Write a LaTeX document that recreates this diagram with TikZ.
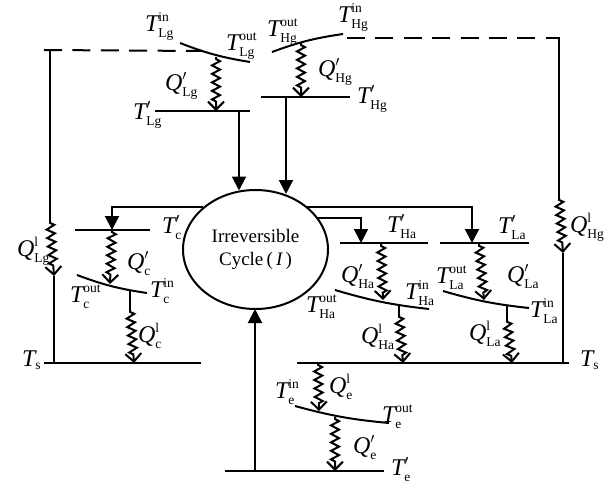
\documentclass[tikz,border=0pt]{standalone}
\usepackage{fontspec}
\setmainfont{Liberation Serif}
\usepackage{amsmath}
\usetikzlibrary{arrows.meta,shapes.geometric}
\usetikzlibrary{decorations.pathmorphing}
\DeclareMathSizes{24}{24}{13.5}{10}
\newcommand{\Tvar}[2]{$\mathit{T}^{\mathrm{#1}}_{\mathrm{#2}}$}
\newcommand{\Qvar}[2]{$\mathit{Q}^{\mathrm{#1}}_{\mathrm{#2}}$}
\tikzset{
 plate/.style={line width=2pt},
 flow/.style={-{Triangle[length=14pt,width=14pt]}},
 dashline/.style={dash pattern=on 18pt off 10.4pt},
 wiggle/.style={decorate,decoration={zigzag,amplitude=4pt,segment length=8.5pt,pre length=2pt,post length=7pt},-{Straight Barb[length=8pt,width=16pt]}},
 lab/.style={anchor=base west,inner sep=0pt,font=\fontsize{24}{24}\selectfont}
}
\begin{document}
\begin{tikzpicture}[x=1pt,y=-1pt,line width=2pt]
\useasboundingbox (0,0) rectangle (614,483);

% temperature levels
\path (44,363) coordinate[name=sL1];
\path (201,363) coordinate[name=sL2];
\path (297,363) coordinate[name=sR1];
\path (569,363) coordinate[name=sR2];
\path (155,111) coordinate[name=lg1];
\path (250,111) coordinate[name=lg2];
\path (261,97) coordinate[name=hg1];
\path (350,97) coordinate[name=hg2];
\path (75,230) coordinate[name=c1];
\path (150,230) coordinate[name=c2];
\path (340,243) coordinate[name=ha1];
\path (428,243) coordinate[name=ha2];
\path (440,243) coordinate[name=la1];
\path (529,243) coordinate[name=la2];
\path (225,471) coordinate[name=e1];
\path (384,471) coordinate[name=e2];

% working fluid curves
\path (180,43) coordinate[name=clg1];
\path (250,62) coordinate[name=clg2];
\path (272,52) coordinate[name=chg1];
\path (343,34) coordinate[name=chg2];
\path (77,275) coordinate[name=cc1];
\path (147,293) coordinate[name=cc2];
\path (335,290) coordinate[name=cha1];
\path (429,309) coordinate[name=cha2];
\path (443,291) coordinate[name=cla1];
\path (529,308) coordinate[name=cla2];
\path (295,406) coordinate[name=ce1];
\path (389,423) coordinate[name=ce2];

\path (255.5,249.5) node[name=cycle,draw,ellipse,inner sep=0pt,minimum width=145pt,minimum height=119pt,align=center,font=\fontsize{19}{23}\selectfont] {Irreversible\\Cycle\,(\,$\mathit{I}$\,)};

\path[plate] (sL1) edge (sL2);
\path[plate] (sR1) edge (sR2);
\path[plate] (lg1) edge (lg2);
\path[plate] (hg1) edge (hg2);
\path[plate] (c1) edge (c2);
\path[plate] (ha1) edge (ha2);
\path[plate] (la1) edge (la2);
\path[plate] (e1) edge (e2);

\path[plate] (clg1) edge[bend right=6] (clg2);
\path[plate] (chg1) edge[bend left=6] (chg2);
\path[plate] (cc1) edge[bend right=6] (cc2);
\path[plate] (cha1) edge[bend right=5] (cha2);
\path[plate] (cla1) edge[bend right=5] (cla2);
\path[plate] (ce1) edge[bend right=5] (ce2);

% dashed return lines
\path (44,50) coordinate[name=dL1];
\path (203,51) coordinate[name=dL2];
\path (560,38) coordinate[name=dR1];
\path (347,38) coordinate[name=dR2];
\draw[dashline] (dL1) -- (dL2);
\draw[dashline] (dR2) -- (dR1);

% heat leaks to the sink
\path (50,50) coordinate[name=qlg0];
\path (50,221) coordinate[name=qlg1];
\path (54,276) coordinate[name=qlg2];
\path (54,363) coordinate[name=qlg3];
\draw (qlg0) -- (qlg1);
\draw[wiggle] (qlg1) -- (qlg2);
\draw (qlg2) -- (qlg3);
\path (559,38) coordinate[name=qhg0];
\path (559,198) coordinate[name=qhg1];
\path (563,253) coordinate[name=qhg2];
\path (563,363) coordinate[name=qhg3];
\draw (qhg0) -- (qhg1);
\draw[wiggle] (qhg1) -- (qhg2);
\draw (qhg2) -- (qhg3);

% heat exchange
\path (216,57) coordinate[name=a1];
\path (216,111) coordinate[name=a2];
\path (301,43) coordinate[name=b1];
\path (301,97) coordinate[name=b2];
\path (112,230) coordinate[name=f1];
\path (110,284) coordinate[name=f2];
\path (381,244) coordinate[name=g1];
\path (383,300) coordinate[name=g2];
\path (479,244) coordinate[name=h1];
\path (484,300) coordinate[name=h2];
\path (318,363) coordinate[name=k1];
\path (319,411) coordinate[name=k2];
\path (335,417) coordinate[name=m1];
\path (335,471) coordinate[name=m2];
\draw[wiggle] (a1) -- (a2);
\draw[wiggle] (b1) -- (b2);
\draw[wiggle] (f1) -- (f2);
\draw[wiggle] (g1) -- (g2);
\draw[wiggle] (h1) -- (h2);
\draw[wiggle] (k1) -- (k2);
\draw[wiggle] (m1) -- (m2);

\path (130,290) coordinate[name=n1];
\path (130,310) coordinate[name=n2];
\path (134,363) coordinate[name=n3];
\path (399,305) coordinate[name=p1];
\path (399,315) coordinate[name=p2];
\path (403,363) coordinate[name=p3];
\path (507,305) coordinate[name=r1];
\path (507,320) coordinate[name=r2];
\path (512,363) coordinate[name=r3];
\draw (n1) -- (n2);
\draw[wiggle] (n2) -- (n3);
\draw (p1) -- (p2);
\draw[wiggle] (p2) -- (p3);
\draw (r1) -- (r2);
\draw[wiggle] (r2) -- (r3);

% flows to and from the cycle
\path (239,111) coordinate[name=u1];
\path (239,190.5) coordinate[name=u2];
\path (286,97) coordinate[name=v1];
\path (286,194) coordinate[name=v2];
\path (255,471) coordinate[name=w1];
\path (255,309) coordinate[name=w2];
\path (203,207) coordinate[name=x1];
\path (112,207) coordinate[name=x2];
\path (112,230) coordinate[name=x3];
\path (307,207) coordinate[name=y1];
\path (472,207) coordinate[name=y2];
\path (472,243) coordinate[name=y3];
\path (318,218) coordinate[name=z1];
\path (361,218) coordinate[name=z2];
\path (361,243) coordinate[name=z3];
\draw[flow] (u1) -- (u2);
\draw[flow] (v1) -- (v2);
\draw[flow] (w1) -- (w2);
\draw[flow] (x1) -- (x2) -- (x3);
\draw[flow] (y1) -- (y2) -- (y3);
\draw[flow] (z1) -- (z2) -- (z3);

% labels
\path (144,31) node[name=tlgin,lab] {\Tvar{in}{Lg}};
\path (225,50) node[name=tlgout,lab] {\Tvar{out}{Lg}};
\path (266,36) node[name=thgout,lab] {\Tvar{out}{Hg}};
\path (337,22) node[name=thgin,lab] {\Tvar{in}{Hg}};
\path (164,90) node[name=qlgp,lab] {$\mathit{Q}'_{\mathrm{Lg}}$};
\path (317,76) node[name=qhgp,lab] {$\mathit{Q}'_{\mathrm{Hg}}$};
\path (132,119) node[name=tlgp,lab] {$\mathit{T}'_{\mathrm{Lg}}$};
\path (356,103) node[name=thgp,lab] {$\mathit{T}'_{\mathrm{Hg}}$};
\path (161,233) node[name=tcp,lab] {$\mathit{T}'_{\mathrm{c}}$};
\path (16,256) node[name=qlgl,lab] {\Qvar{l}{Lg}};
\path (126,269) node[name=qcp,lab] {$\mathit{Q}'_{\mathrm{c}}$};
\path (69,302) node[name=tcout,lab] {\Tvar{out}{c}};
\path (149,297) node[name=tcin,lab] {\Tvar{in}{c}};
\path (137,342) node[name=qcl,lab] {\Qvar{l}{c}};
\path (21,366) node[name=tsl,lab] {$\mathit{T}_{\mathrm{s}}$};
\path (386,232) node[name=thap,lab] {$\mathit{T}'_{\mathrm{Ha}}$};
\path (497,233) node[name=tlap,lab] {$\mathit{T}'_{\mathrm{La}}$};
\path (569,232) node[name=qhgl,lab] {\Qvar{l}{Hg}};
\path (340,282) node[name=qhap,lab] {$\mathit{Q}'_{\mathrm{Ha}}$};
\path (435,283) node[name=tlaout,lab] {\Tvar{out}{La}};
\path (506,282) node[name=qlap,lab] {$\mathit{Q}'_{\mathrm{La}}$};
\path (305,312) node[name=thaout,lab] {\Tvar{out}{Ha}};
\path (404,299) node[name=thain,lab] {\Tvar{in}{Ha}};
\path (529,317) node[name=tlain,lab] {\Tvar{in}{La}};
\path (360,343) node[name=qhal,lab] {\Qvar{l}{Ha}};
\path (468,340) node[name=qlal,lab] {\Qvar{l}{La}};
\path (579,366) node[name=tsr,lab] {$\mathit{T}_{\mathrm{s}}$};
\path (328,393) node[name=qel,lab] {\Qvar{l}{e}};
\path (274,398) node[name=tein,lab] {\Tvar{in}{e}};
\path (381,422) node[name=teout,lab] {\Tvar{out}{e}};
\path (352,453) node[name=qep,lab] {$\mathit{Q}'_{\mathrm{e}}$};
\path (390,475) node[name=tep,lab] {$\mathit{T}'_{\mathrm{e}}$};

\end{tikzpicture}
\end{document}
